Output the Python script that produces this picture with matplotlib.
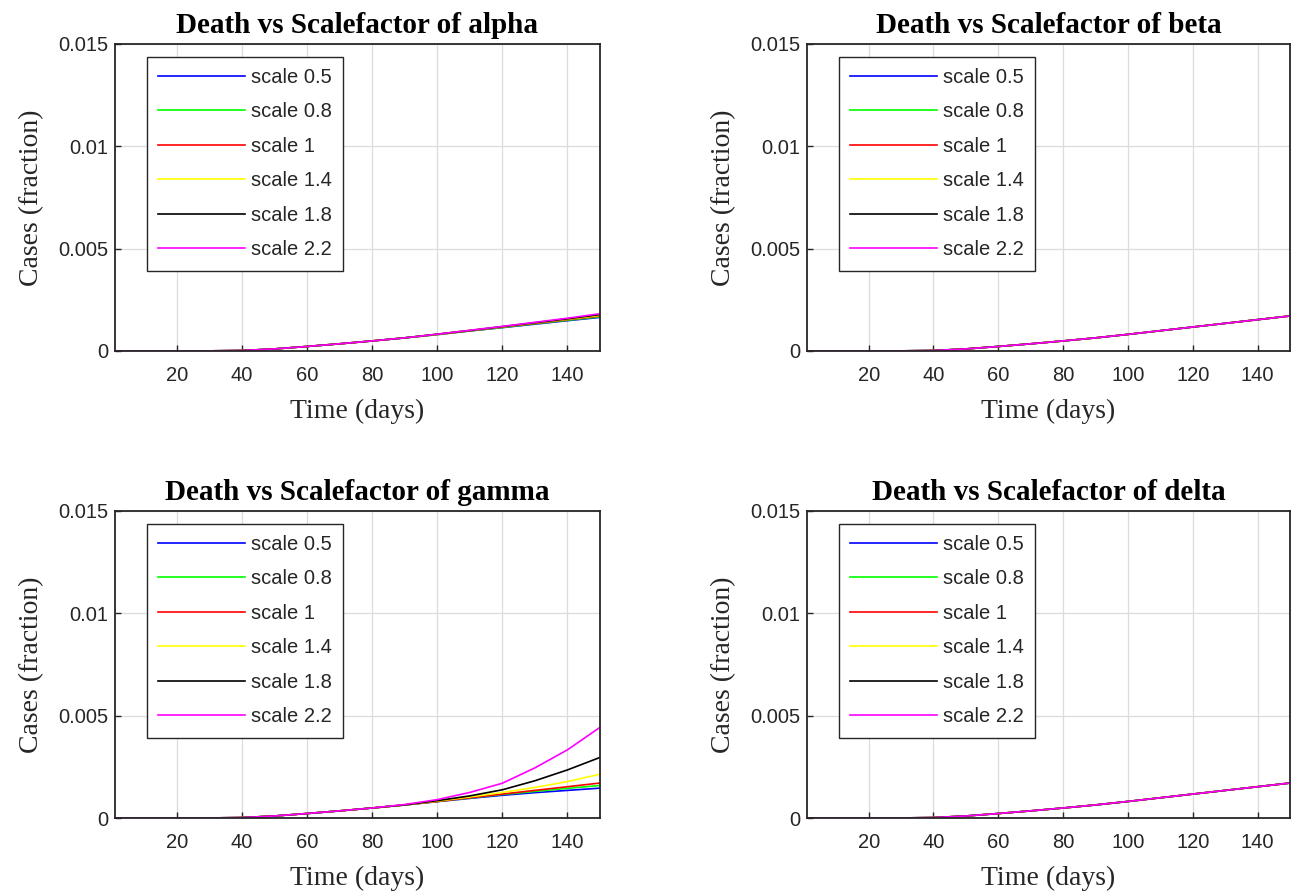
import matplotlib.pyplot as plt

# sampled days and death fractions for each scale factor
days = [1, 10, 20, 30, 40, 50, 60, 70, 80, 90, 100, 110, 120, 130, 140, 150]
scales = ['scale 0.5', 'scale 0.8', 'scale 1', 'scale 1.4', 'scale 1.8', 'scale 2.2']
colors = ['#0000ff', '#00ff00', '#ff0000', '#ffff00', '#000000', '#ff00ff']

# common early part (days 1..90)
early = [0, 0, 0, 0.000005, 0.00002, 0.0001, 0.00022, 0.00035, 0.00049, 0.00064]

base = early + [0.00081, 0.00099, 0.00117, 0.00135, 0.00153, 0.00171]

alpha = [
    early + [0.00080, 0.00098, 0.00114, 0.00131, 0.00148, 0.00164],
    early + [0.00080, 0.00098, 0.00115, 0.00133, 0.00150, 0.00167],
    base,
    early + [0.00081, 0.00100, 0.00118, 0.00137, 0.00155, 0.00174],
    early + [0.00082, 0.00100, 0.00119, 0.00138, 0.00157, 0.00178],
    early + [0.00082, 0.00101, 0.00120, 0.00140, 0.00160, 0.00182],
]
beta = [base] * 6
gamma = [
    early + [0.00080, 0.00096, 0.00111, 0.00124, 0.00135, 0.00146],
    early + [0.00081, 0.00098, 0.00115, 0.00130, 0.00145, 0.00159],
    base,
    early + [0.00083, 0.00103, 0.00125, 0.00149, 0.00178, 0.00214],
    early + [0.00085, 0.00108, 0.00138, 0.00182, 0.00235, 0.00296],
    early[:9] + [0.00066, 0.00090, 0.00125, 0.00170, 0.00245, 0.00333, 0.00443],
]
delta = [base] * 6

panels = [('alpha', alpha), ('beta', beta), ('gamma', gamma), ('delta', delta)]

fig = plt.figure(figsize=(12.95, 8.91), dpi=100)
positions = [
    [0.0888, 0.6061, 0.3745, 0.3446],
    [0.6232, 0.6061, 0.3730, 0.3446],
    [0.0888, 0.0819, 0.3745, 0.3446],
    [0.6232, 0.0819, 0.3730, 0.3446],
]

serif = ['Liberation Serif', 'DejaVu Serif']
sans = ['Liberation Sans', 'DejaVu Sans']
tick_col = '#262626'

for pos, (name, series) in zip(positions, panels):
    ax = fig.add_axes(pos)
    for vals, lab, c in zip(series, scales, colors):
        ax.plot(days, vals, color=c, lw=1.2, label=lab)
    ax.set_xlim(1, 150)
    ax.set_ylim(0, 0.015)
    ax.set_xticks([20, 40, 60, 80, 100, 120, 140])
    ax.set_yticks([0, 0.005, 0.01, 0.015])
    ax.set_yticklabels(['0', '0.005', '0.01', '0.015'])
    ax.grid(True, color='#dcdcdc', lw=0.9)
    ax.set_axisbelow(True)
    ax.tick_params(direction='in', length=4, width=1, colors=tick_col,
                   labelsize=14.5)
    ax.tick_params(axis='x', pad=11)
    ax.tick_params(axis='y', pad=5)
    for lbl in ax.get_xticklabels() + ax.get_yticklabels():
        lbl.set_family(sans)
    for sp in ax.spines.values():
        sp.set_color(tick_col)
        sp.set_linewidth(1.3)
    ax.set_title('Death vs Scalefactor of ' + name, family=serif,
                 fontweight='bold', fontsize=21, pad=8)
    ax.set_xlabel('Time (days)', family=serif, fontsize=20, color=tick_col,
                  labelpad=10)
    ax.set_ylabel('Cases (fraction)', family=serif, fontsize=20, color=tick_col,
                  labelpad=10)
    leg = ax.legend(loc='upper left', bbox_to_anchor=(0.066, 0.958),
                    borderaxespad=0, fancybox=False, framealpha=1,
                    edgecolor='#262626', handlelength=4.3, handletextpad=0.3,
                    labelspacing=0.77, borderpad=0.55,
                    prop={'family': sans, 'size': 14.5})
    leg.get_frame().set_linewidth(1.0)
    for t in leg.get_texts():
        t.set_color(tick_col)

fig.savefig('out.png', dpi=100)
